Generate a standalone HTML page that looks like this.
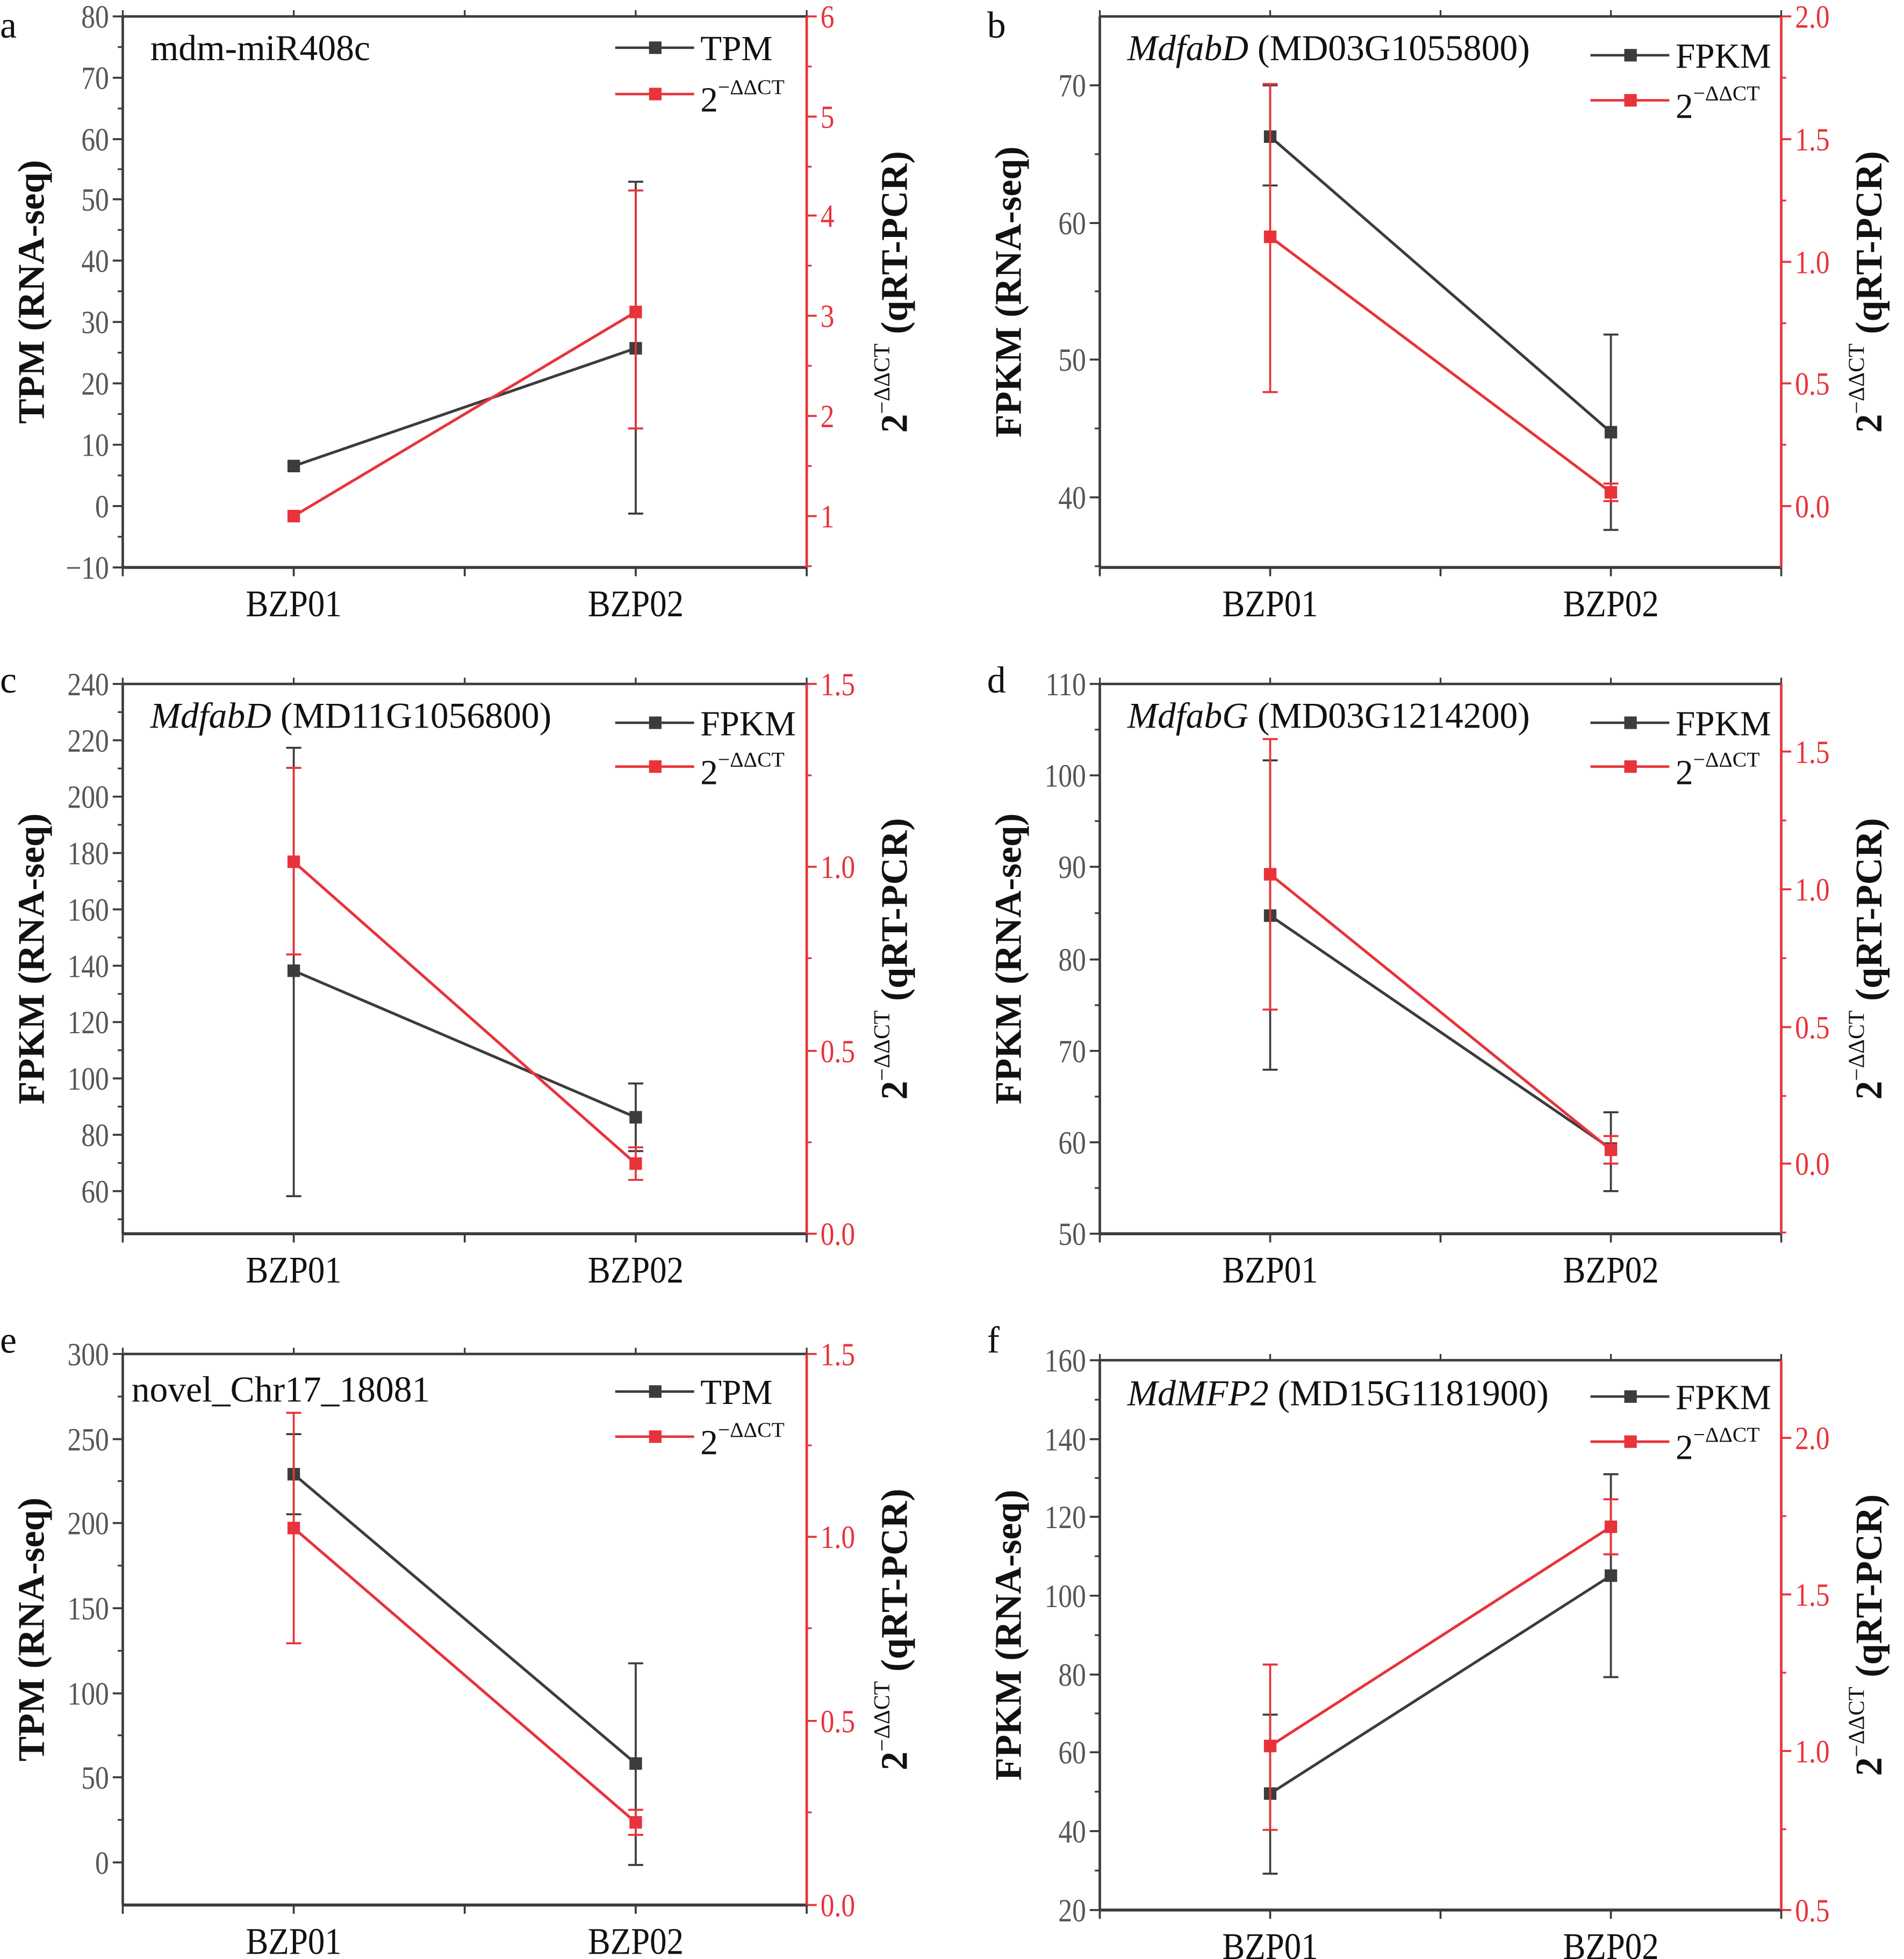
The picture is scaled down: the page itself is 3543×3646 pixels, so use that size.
<!DOCTYPE html>
<html><head><meta charset="utf-8"><style>
html,body{margin:0;padding:0;background:#fff;}
svg{display:block;font-family:"Liberation Serif","Times New Roman",serif;}
</style></head><body>
<svg id="s" width="3543" height="3646" viewBox="0 0 1520 1564" font-family="Liberation Serif, serif" xmlns="http://www.w3.org/2000/svg"></svg>
<script>
const P=[
{L:98,R:644,T:13,B:453,letter:'a',ly:30,
 lt:[[13,'80'],[62,'70'],[111,'60'],[159,'50'],[208,'40'],[257,'30'],[306,'20'],[355,'10'],[404,'0'],[453,'−10']],
 rt:[[13,'6'],[93,'5'],[172,'4'],[252,'3'],[332,'2'],[412,'1']],
 ylab:'TPM (RNA-seq)',title:['','mdm-miR408c'],tx:120,ty:48,leg:['TPM',38,75],
 blk:[[372,null,null],[278,410,145]],red:[[412,null,null],[249,342,152]]},
{L:878,R:1422,T:13,B:453,letter:'b',ly:30,
 lt:[[68,'70'],[178,'60'],[287,'50'],[397,'40']],
 rt:[[13,'2.0'],[111,'1.5'],[209,'1.0'],[306,'0.5'],[404,'0.0']],
 ylab:'FPKM (RNA-seq)',title:['MdfabD',' (MD03G1055800)'],tx:900,ty:48,leg:['FPKM',44,80],
 blk:[[109,148,68],[345,423,267]],red:[[189,313,67],[393,400,386]]},
{L:98,R:644,T:546,B:985,letter:'c',ly:553,
 lt:[[546,'240'],[591,'220'],[636,'200'],[681,'180'],[726,'160'],[771,'140'],[816,'120'],[861,'100'],[906,'80'],[951,'60']],
 rt:[[546,'1.5'],[692,'1.0'],[839,'0.5'],[985,'0.0']],
 ylab:'FPKM (RNA-seq)',title:['MdfabD',' (MD11G1056800)'],tx:120,ty:581,leg:['FPKM',577,612],
 blk:[[775,955,597],[892,919,865]],red:[[688,762,613],[929,942,916]]},
{L:878,R:1422,T:546,B:985,letter:'d',ly:553,
 lt:[[546,'110'],[619,'100'],[692,'90'],[766,'80'],[839,'70'],[912,'60'],[985,'50']],
 rt:[[600,'1.5'],[710,'1.0'],[820,'0.5'],[929,'0.0']],
 ylab:'FPKM (RNA-seq)',title:['MdfabG',' (MD03G1214200)'],tx:900,ty:581,leg:['FPKM',577,612],
 blk:[[731,854,607],[917,951,888]],red:[[698,806,590],[918,929,907]]},
{L:98,R:644,T:1081,B:1521,letter:'e',ly:1080,
 lt:[[1081,'300'],[1149,'250'],[1216,'200'],[1284,'150'],[1352,'100'],[1419,'50'],[1487,'0']],
 rt:[[1081,'1.5'],[1227,'1.0'],[1374,'0.5'],[1521,'0.0']],
 ylab:'TPM (RNA-seq)',title:['','novel_Chr17_18081'],tx:105,ty:1119,leg:['TPM',1111,1147],
 blk:[[1177,1209,1145],[1408,1489,1328]],red:[[1220,1312,1128],[1455,1465,1445]]},
{L:878,R:1422,T:1086,B:1525,letter:'f',ly:1080,
 lt:[[1086,'160'],[1149,'140'],[1211,'120'],[1274,'100'],[1337,'80'],[1399,'60'],[1462,'40'],[1525,'20']],
 rt:[[1148,'2.0'],[1273,'1.5'],[1398,'1.0'],[1525,'0.5']],
 ylab:'FPKM (RNA-seq)',title:['MdMFP2',' (MD15G1181900)'],tx:900,ty:1122,leg:['FPKM',1115,1151],
 blk:[[1432,1496,1369],[1258,1339,1177]],red:[[1394,1461,1329],[1219,1241,1197]]}
];
const RED='#e8333a',BLK='#3c3c3c',GR='#555';
const FF='font-family="Liberation Serif, serif"';
let h='';
function ln(x1,y1,x2,y2,c,w){h+=`<line x1="${x1}" y1="${y1}" x2="${x2}" y2="${y2}" stroke="${c}" stroke-width="${w||1.6}"/>`;}
function tx(x,y,s,sz,c,anch,extra){h+=`<text ${FF} x="${x}" y="${y}" font-size="${sz}" fill="${c}" text-anchor="${anch||'start'}" ${extra||''}>${s}</text>`;}
function ntx(x,y,s,c,anch){h+=`<text ${FF} font-size="26" fill="${c}" text-anchor="${anch}" transform="translate(${x},${y+9}) scale(0.85,1)">${s}</text>`;}
P.forEach(p=>{
 const W=p.R-p.L, x1=p.L+W*0.25, x2=p.L+W*0.75, xm=p.L+W*0.5;
 ln(p.L,p.T,p.R,p.T,BLK,2); ln(p.L,p.T,p.L,p.B,BLK,2); ln(p.L,p.B,p.R,p.B,BLK,2.4);
 ln(p.R,p.T,p.R,p.B,RED,2);
 p.lt.forEach((t,i)=>{ln(p.L-8,t[0],p.L,t[0],BLK,1.6);ntx(p.L-11,t[0],t[1],GR,'end');
  if(i<p.lt.length-1){const m=(t[0]+p.lt[i+1][0])/2;ln(p.L-4,m,p.L,m,BLK,1.4);}});
 const dl=p.lt[1][0]-p.lt[0][0];
 if(p.lt[0][0]-dl/2>p.T)ln(p.L-4,p.lt[0][0]-dl/2,p.L,p.lt[0][0]-dl/2,BLK,1.4);
 const le=p.lt[p.lt.length-1][0];if(le+dl/2<p.B)ln(p.L-4,le+dl/2,p.L,le+dl/2,BLK,1.4);
 const dr=p.rt[1][0]-p.rt[0][0];
 p.rt.forEach((t,i)=>{ln(p.R,t[0],p.R+8,t[0],RED,1.6);ntx(p.R+11,t[0],t[1],RED,'start');
  const m=t[0]+dr/2; if(m<p.B)ln(p.R,m,p.R+4,m,RED,1.4);});
 if(p.rt[0][0]-dr/2>p.T)ln(p.R,p.rt[0][0]-dr/2,p.R+4,p.rt[0][0]-dr/2,RED,1.4);
 [p.L,x1,xm,x2,p.R].forEach(x=>{ln(x,p.B,x,p.B+7,BLK,1.6);ln(x,p.T,x,p.T-5,BLK,1.4);});
 h+=`<text ${FF} font-size="30" fill="#111" text-anchor="middle" transform="translate(${x1},${p.B+39}) scale(0.9,1)">BZP01</text>`;
 h+=`<text ${FF} font-size="30" fill="#111" text-anchor="middle" transform="translate(${x2},${p.B+39}) scale(0.9,1)">BZP02</text>`;
 tx(p.letter==='a'||p.letter==='c'||p.letter==='e'?0:788,p.ly,p.letter,30,'#111');
 const cy=(p.T+p.B)/2;
 tx(0,0,p.ylab,30,'#111','middle',`font-weight="bold" transform="translate(${p.L-63},${cy}) rotate(-90)"`);
 h+=`<text ${FF} transform="translate(${p.R+80},${cy}) rotate(-90)" font-size="30" fill="#111" text-anchor="middle" font-weight="bold">2<tspan font-size="18" dy="-14" font-weight="normal">−ΔΔCT</tspan><tspan dy="14"> (qRT-PCR)</tspan></text>`;
 h+=`<text ${FF} x="${p.tx}" y="${p.ty}" font-size="29" fill="#111"><tspan font-style="italic">${p.title[0]}</tspan>${p.title[1]}</text>`;
 const lx=p.L+W*0.72, lx2=lx+63;
 ln(lx,p.leg[1],lx2,p.leg[1],BLK,2);h+=`<rect x="${lx+27}" y="${p.leg[1]-5}" width="10" height="10" fill="${BLK}"/>`;
 tx(lx2+5,p.leg[1]+10,p.leg[0],28,'#111');
 ln(lx,p.leg[2],lx2,p.leg[2],RED,2);h+=`<rect x="${lx+27}" y="${p.leg[2]-5}" width="10" height="10" fill="${RED}"/>`;
 h+=`<text ${FF} x="${lx2+5}" y="${p.leg[2]+14}" font-size="28" fill="#111">2<tspan font-size="17" dy="-14">−ΔΔCT</tspan></text>`;
 [[p.blk,BLK],[p.red,RED]].forEach(([d,c])=>{
  const xs=[x1,x2];
  ln(xs[0],d[0][0],xs[1],d[1][0],c,2.2);
  d.forEach((pt,i)=>{const x=xs[i];
   if(pt[1]!=null){ln(x,pt[1],x,pt[2],c,1.6);ln(x-6,pt[1],x+6,pt[1],c,1.6);ln(x-6,pt[2],x+6,pt[2],c,1.6);}
   h+=`<rect x="${x-5}" y="${pt[0]-5}" width="10" height="10" fill="${c}"/>`;});
 });
});
document.getElementById('s').innerHTML=h;
</script>
</body></html>
